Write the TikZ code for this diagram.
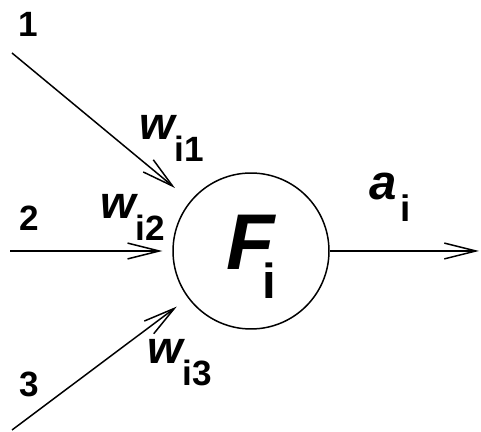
\documentclass[tikz,border=0pt]{standalone}
\usepackage{fontspec}
\setmainfont{Liberation Sans}
\usepackage{tikz}
\usetikzlibrary{arrows.meta}

\newcommand{\wlbl}[1]{{\fontsize{26}{26}\selectfont\bfseries\itshape w}%
  {\fontsize{20}{20}\selectfont\bfseries\raisebox{-12pt}{#1}}}

\begin{document}
\begin{tikzpicture}[x=0.02cm, y=-0.02cm,
      lbl/.style={inner sep=0pt, anchor=base west},
      num/.style={lbl, font=\fontsize{20}{20}\selectfont\bfseries},
      neuron/.style={draw, circle, line width=0.85pt, inner sep=0pt,
                     minimum size=3.12cm},
      link/.style={-{Straight Barb[length=18pt, width=9pt]}, line width=0.85pt}
  ]
    \useasboundingbox (0,0) rectangle (481,432);
    % neuron and free ends
    \node[neuron] (cell) at (251,251) {};
    \coordinate (in1) at (12,53);
    \coordinate (in2) at (10,251);
    \coordinate (in3) at (12,430);
    \coordinate (out) at (479,251);
    % connectors
    \draw[link, shorten >=0.4cm]  (in1) -- (cell);
    \draw[link, shorten >=0.2cm]  (in2) -- (cell);
    \draw[link, shorten >=0.28cm] (in3) -- (cell);
    \draw[link] (cell) -- (out);
    % labels
    \node[num] (n1) at (18,37)  {1};
    \node[num] (n2) at (19,231) {2};
    \node[num] (n3) at (19,397) {3};
    \node[lbl] (w1) at (139,140) {\wlbl{i1}};
    \node[lbl] (w2) at (100,219) {\wlbl{i2}};
    \node[lbl] (w3) at (147,364) {\wlbl{i3}};
    \node[lbl] (act) at (369,200) {{\fontsize{28}{28}\selectfont\bfseries\itshape a}%
      \hspace{2pt}{\fontsize{21}{21}\selectfont\bfseries\raisebox{-12pt}{i}}};
    \node[lbl] (fn) at (226,270) {{\fontsize{45}{45}\selectfont\bfseries\itshape F}%
      \hspace{-7pt}{\fontsize{28}{28}\selectfont\bfseries\raisebox{-16pt}{i}}};
  \end{tikzpicture}
\end{document}
